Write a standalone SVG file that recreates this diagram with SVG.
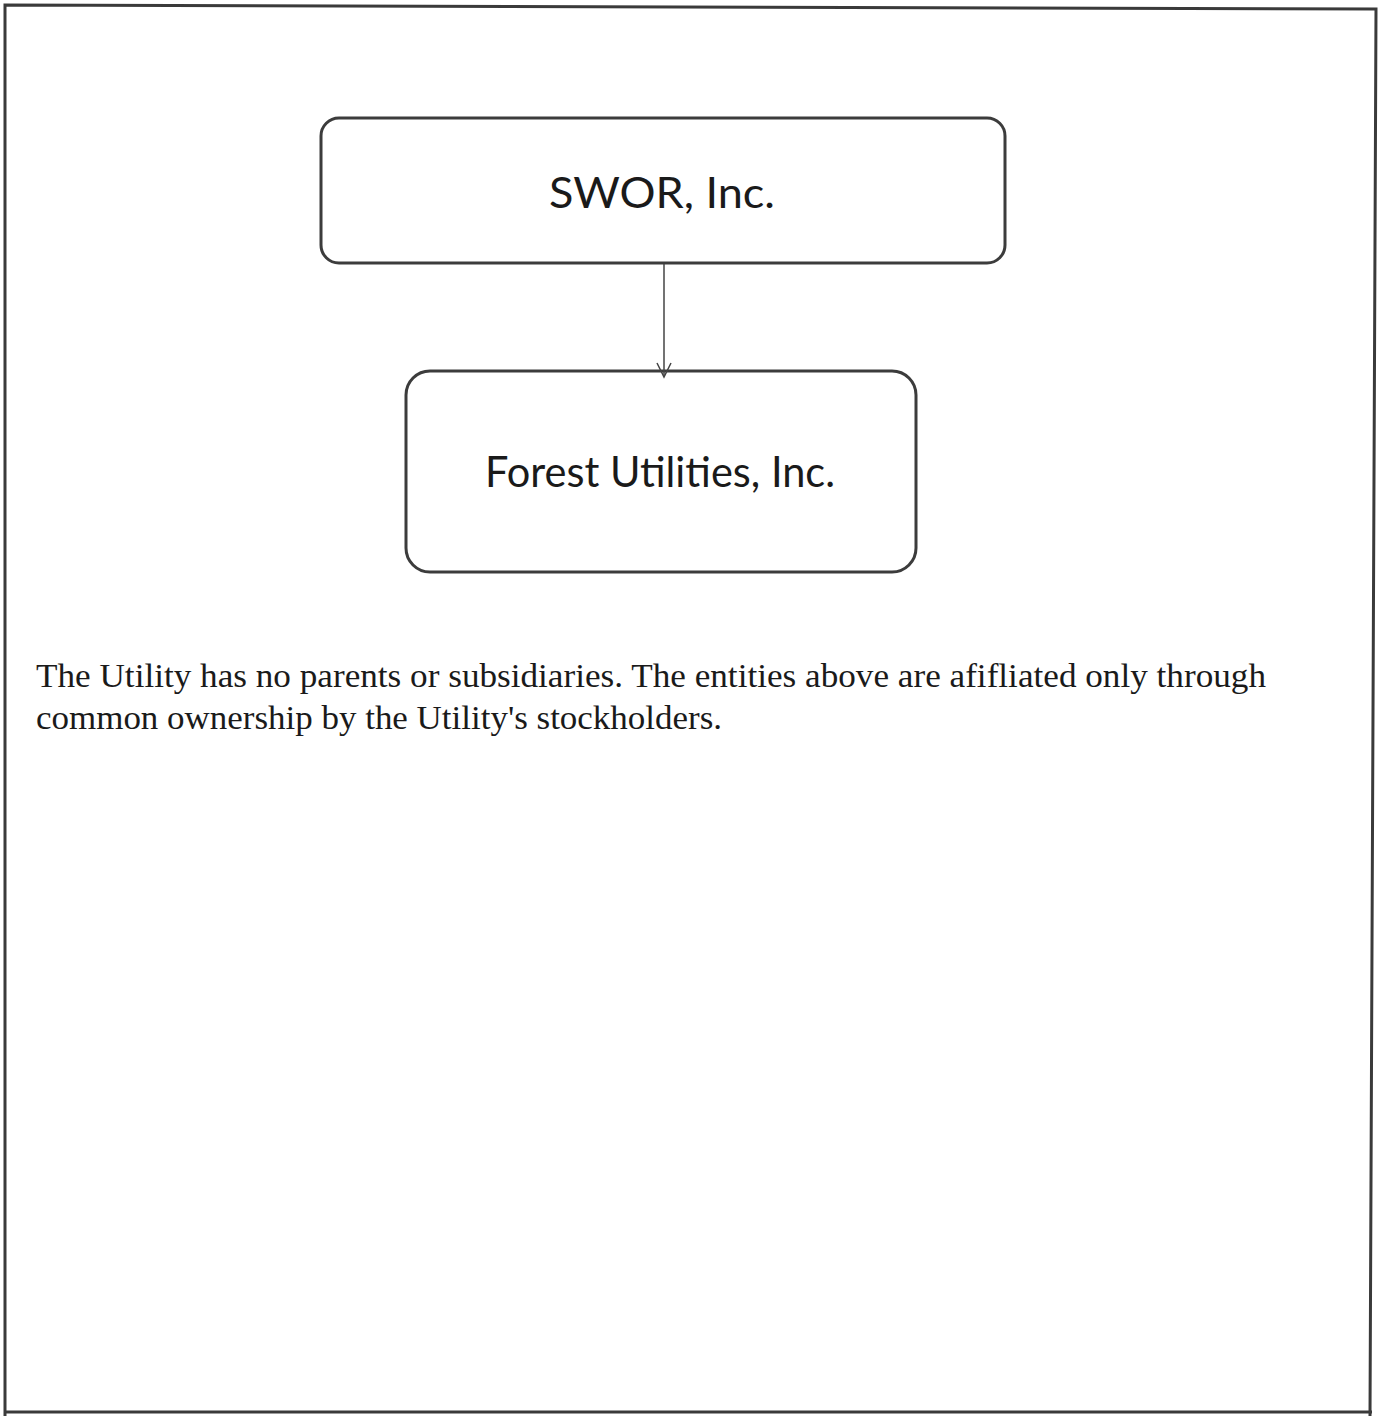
<svg xmlns="http://www.w3.org/2000/svg" width="1378" height="1416" viewBox="0 0 1378 1416">
<style>
.page{fill:none;stroke:#3a3a3a;stroke-width:3}
.box{fill:#ffffff;stroke:#3c3c3c;stroke-width:3}
.lbl{font-family:Lato,"Open Sans",sans-serif;font-size:42px;fill:#1a1a1a}
.para{font-family:"Liberation Serif","Times New Roman",serif;font-size:33px;fill:#1a1a1a}
.conn{fill:none;stroke:#444444;stroke-width:1.5}
</style>
<defs>
<marker id="arr" markerWidth="18" markerHeight="18" refX="15" refY="8" orient="auto" markerUnits="userSpaceOnUse">
<path d="M1,1 L15,8 L1,15" fill="none" stroke="#444444" stroke-width="1.5"/>
</marker>
</defs>
<rect width="1378" height="1416" fill="#ffffff"/>
<path class="page" d="M5,1416 L5,5 L1376,9 L1370,1416"/>
<line class="page" x1="5" y1="1412" x2="1372" y2="1412"/>
<g id="node-swor">
<rect class="box" x="321" y="118" width="684" height="145" rx="18"/>
<text class="lbl" x="549" y="208" textLength="226" lengthAdjust="spacingAndGlyphs">SWOR, Inc.</text>
</g>
<g id="node-forest">
<rect class="box" x="406" y="371" width="510" height="201" rx="24"/>
<text class="lbl" x="485" y="487" textLength="350" lengthAdjust="spacingAndGlyphs">Forest Utilities, Inc.</text>
</g>
<g id="connectors">
<line class="conn" x1="664" y1="264" x2="664" y2="377" marker-end="url(#arr)"/>
</g>
<g id="note">
<text class="para" x="36" y="687" textLength="1230" lengthAdjust="spacingAndGlyphs">The Utility has no parents or subsidiaries. The entities above are afifliated only through</text>
<text class="para" x="36" y="729" textLength="686" lengthAdjust="spacingAndGlyphs">common ownership by the Utility's stockholders.</text>
</g>
</svg>
